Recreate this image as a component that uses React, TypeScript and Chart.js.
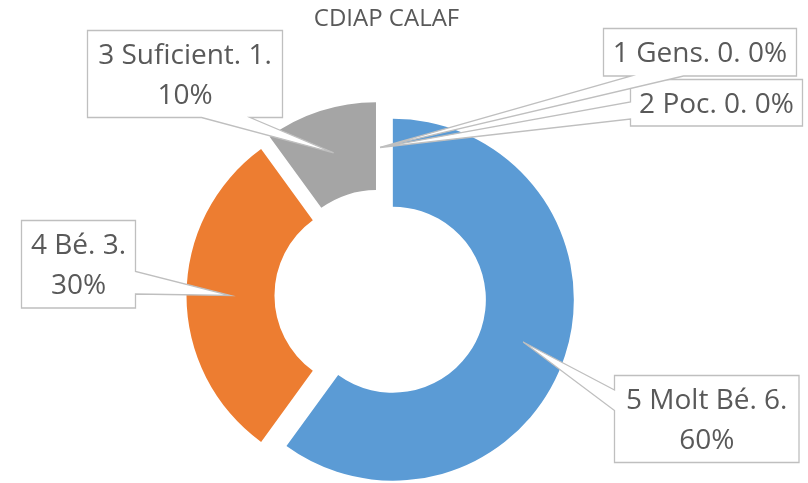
import React, { useEffect, useRef } from 'react';
import { Chart, registerables } from 'chart.js';

Chart.register(...registerables);

// ---- data ----
const title = 'CDIAP CALAF';
const categories = ['5 Molt Bé', '4 Bé', '3 Suficient', '2 Poc', '1 Gens'];
const values = [6, 3, 1, 0, 0];
const colors = ['#5B9BD5', '#ED7D31', '#A5A5A5', '#FFC000', '#4472C4'];

// ---- layout / style ----
const W = 808;
const H = 483;
const FONT = '"Open Sans", "Noto Sans", sans-serif';
const TEXT_COLOR = '#595959';
const BORDER_COLOR = '#BFBFBF';
const EXPLODE = [13.5, 12.5, 13, 11, 11];
const LABEL_FONT_PX = 28;
const LINE_H = 40;

type Box = { x: number; y: number; w: number; h: number; side: 'left' | 'right' | 'bottom' | 'top'; b1: number; b2: number };
const LABEL_BOXES: Box[] = [
  { x: 614.5, y: 375.5, w: 184.5, h: 87, side: 'left', b1: 390, b2: 410.5 },
  { x: 21.5, y: 220.5, w: 114, h: 87.5, side: 'right', b1: 271.5, b2: 294 },
  { x: 87.5, y: 30.5, w: 195, h: 87, side: 'bottom', b1: 201.5, b2: 250 },
  { x: 630.5, y: 79.5, w: 172, h: 46.5, side: 'left', b1: 102, b2: 119 },
  { x: 603.5, y: 28.5, w: 193, h: 47.5, side: 'bottom', b1: 631.5, b2: 683.5 },
];

const total = values.reduce((a, b) => a + b, 0);
const labelLines = categories.map((c, i) => {
  const pct = Math.round((values[i] / total) * 100) + '%';
  return values[i] > 0 ? [`${c}. ${values[i]}.`, pct] : [`${c}. ${values[i]}. ${pct}`];
});

const explodePlugin = {
  id: 'explodeArcs',
  beforeDatasetDraw(chart: any, args: any) {
    const ctx = chart.ctx;
    args.meta.data.forEach((arc: any, i: number) => {
      if (!values[i]) return;
      const mid = (arc.startAngle + arc.endAngle) / 2;
      ctx.save();
      ctx.translate(Math.cos(mid) * EXPLODE[i], Math.sin(mid) * EXPLODE[i]);
      arc.draw(ctx, chart.chartArea);
      ctx.restore();
    });
    return false;
  },
};

const calloutPlugin = {
  id: 'callouts',
  afterDraw(chart: any) {
    const ctx = chart.ctx;
    const meta = chart.getDatasetMeta(0);
    ctx.save();
    // title
    ctx.font = `24px ${FONT}`;
    ctx.fillStyle = TEXT_COLOR;
    ctx.textAlign = 'center';
    ctx.textBaseline = 'alphabetic';
    ctx.fillText(title, 386.5, 26);

    const order = [0, 1, 2, 3, 4];
    order.forEach((i) => {
      const arc = meta.data[i];
      const mid = (arc.startAngle + arc.endAngle) / 2;
      const rMid = (arc.innerRadius + arc.outerRadius) / 2 + EXPLODE[i];
      const tx = arc.x + Math.cos(mid) * rMid;
      const ty = arc.y + Math.sin(mid) * rMid;
      const b = LABEL_BOXES[i];
      ctx.beginPath();
      ctx.moveTo(b.x, b.y);
      ctx.lineTo(b.x + b.w, b.y);
      if (b.side === 'right') {
        ctx.lineTo(b.x + b.w, b.b1);
        ctx.lineTo(tx, ty);
        ctx.lineTo(b.x + b.w, b.b2);
      }
      ctx.lineTo(b.x + b.w, b.y + b.h);
      if (b.side === 'bottom') {
        ctx.lineTo(b.b2, b.y + b.h);
        ctx.lineTo(tx, ty);
        ctx.lineTo(b.b1, b.y + b.h);
      }
      ctx.lineTo(b.x, b.y + b.h);
      if (b.side === 'left') {
        ctx.lineTo(b.x, b.b2);
        ctx.lineTo(tx, ty);
        ctx.lineTo(b.x, b.b1);
      }
      ctx.closePath();
      ctx.fillStyle = '#FFFFFF';
      ctx.fill();
      ctx.lineWidth = 1.3;
      ctx.strokeStyle = BORDER_COLOR;
      ctx.lineJoin = 'miter';
      ctx.stroke();

      const lines = labelLines[i];
      ctx.font = `${LABEL_FONT_PX}px ${FONT}`;
      ctx.fillStyle = TEXT_COLOR;
      ctx.textAlign = 'center';
      const cx = b.x + b.w / 2;
      const cy = b.y + b.h / 2;
      lines.forEach((ln, k) => {
        ctx.fillText(ln, cx, cy + (k - (lines.length - 1) / 2) * LINE_H + 10);
      });
    });
    ctx.restore();
  },
};

export default function App() {
  const ref = useRef<HTMLCanvasElement | null>(null);
  useEffect(() => {
    if (!ref.current) return;
    const chart = new Chart(ref.current, {
      type: 'doughnut',
      data: {
        labels: categories,
        datasets: [
          {
            data: values,
            backgroundColor: colors,
            borderWidth: 0,
            offset: 0,
          },
        ],
      },
      options: {
        responsive: false,
        animation: false,
        devicePixelRatio: 1,
        radius: 181,
        cutout: '51.4%',
        layout: { padding: { left: 0, right: 48, top: 108, bottom: 0 } },
        plugins: {
          legend: { display: false },
          title: { display: false },
          tooltip: { enabled: false },
        },
      } as any,
      plugins: [explodePlugin, calloutPlugin],
    });
    return () => chart.destroy();
  }, []);
  return (
    <div style={{ position: 'absolute', left: 0, top: 0, width: W, height: H, background: '#fff' }}>
      <canvas ref={ref} width={W} height={H} style={{ display: 'block' }} />
    </div>
  );
}
